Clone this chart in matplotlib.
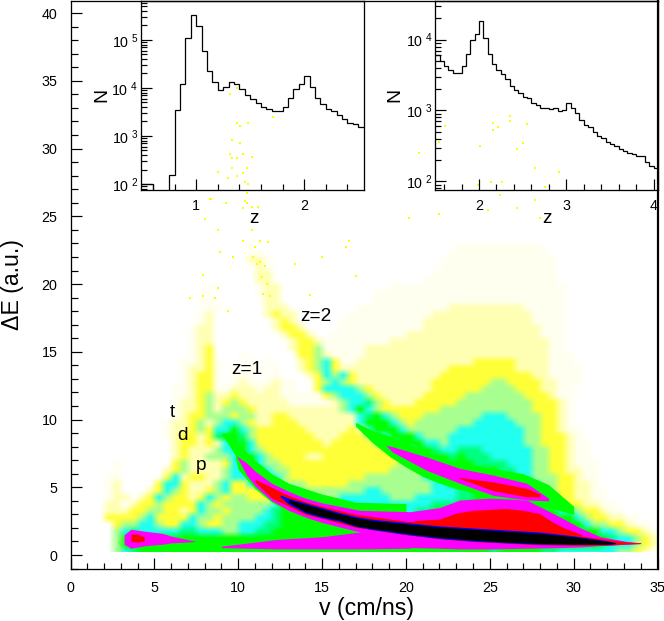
import numpy as np
import matplotlib
matplotlib.use('Agg')
import matplotlib.pyplot as plt
from matplotlib.colors import ListedColormap
from matplotlib.ticker import MultipleLocator, FixedLocator, NullFormatter

# left inset, z histogram (bins of 0.05 from 0.45)
z1_edges_start = 0.45
z1_counts = [100, 100, 100, 1, 1, 1, 154, 3430, 12250, 110400, 331000, 199000, 59300, 22800,
             13060, 9200, 10600, 13060, 12250, 9660, 7250, 5990, 4940, 4080, 3710, 3370, 3370,
             4080, 6280, 9660, 12250, 18000, 10600, 6280, 4720, 3710, 3370, 2790, 2300, 1900,
             1810, 1570]

# right inset, z histogram (bins of 0.05 from 1.5)
z2_edges_start = 1.5
z2_counts = [6010, 4950, 4210, 3770, 3430, 3430, 4210, 6350, 9790, 12160, 18100, 10660, 6350,
             4590, 3770, 3320, 2820, 2250, 1930, 1790, 1570, 1480, 1280, 1190, 1100, 1070, 1040,
             1070, 968, 1000, 1260, 1070, 907, 723, 615, 589, 490, 430, 403, 362, 332, 318, 282,
             270, 248, 240, 228, 228, 185, 164, 152]

# density map, one string per 0.5 in dE (top row 22.5-23),
# one character per 0.5 in v, blocks of 5 cm/ns
density_rows = [
    ".......... .......... .a........ .......... ......aaaa aaaaaa.... ..........",
    ".......... .......... .aa....... .......... .....aaaaa aaaaaaa... ..........",
    ".......... .......... .bba...... .......... ....aaaaaa aaaaaaaa.. ..........",
    ".......... .......... ..ba...... .......... ....aaaaaa aaaaaaaa.. ..........",
    ".......... .......... ..bb...... .......... ...aaaaaaa aaaaaaaa.. ..........",
    ".......... .......... ..bb...... .......... ..aaaaaaaa aaaaaaaa.. ..........",
    ".......... ......a... ..abb..... ........aa aaaaaaaaaa aaaaaaaaa. ..........",
    ".......... ......a... ..abb..... ......aaaa aaaaaaaaaa aaaaaaaaa. ..........",
    ".......... .....aa... ...bb..... ......aaaa aaaaaaaaaa aaaaaaaaa. ..........",
    ".......... ......aa.. ...bbb.... ....aaaaaa aaaaabbbbb bbbbaaaaa. ..........",
    ".......... .....ab... ...bybb... ...aaaaaaa aaabbbbbbb bbbbbaaaa. ..........",
    ".......... .....ab... ....byb... ..aaaaaaaa aabbbbbbbb bbbbbaaaa. ..........",
    ".......... ....abb... ....byyb.. ..aaaaaaaa aabbbbbbbb bbbbbbaaa. ..........",
    ".......... ....abb... .....byyb. .aaaaaaaaa bbbbbbbbbb bbbbbbaaa. ..........",
    ".......... ....abb... ......byyb aaaaaaaabb bbbbbbbbbb bbbbbbbaa. ..........",
    ".......... ....aby... ......byyc aaaaabbbbb bbbbbbbbbb bbbbbbbaa. ..........",
    ".......... ....aby... a......yyc baaaabbbbb bbbbbbbbbb bbbbbbbaaa ..........",
    ".......... ...aabya.. .a.a...byc tyaabbbbbb bbbbbbbbyy yyybbbbaaa ..........",
    ".......... ...abbya.a .aa.a..byc tybbbbbbbb bbbbbyyyyy yyybbbbaaa a.........",
    ".......... ...abyya.a aa.aa...by tctybbbbbb bbbbyyyyyy yyyyybbaaa a.........",
    ".......... ...abyya.a baaabaa..y ctcybbbbbb bbbyyyyyyy ccyyyybbaa a.........",
    ".......... ..aabyyaab bbabbaa..y ttttcybbbb bbbyyyyyyc cccyyybbaa ..........",
    ".......... ..aabycbby bbbbbaaaaa yctttcybbb bbyyyyyccc ccccyyybaa ..........",
    ".......... ..abbycbyc ybbbbbaaaa abcttncybb byyyyycccc cccccyyyba ..........",
    ".......... ..abbycbcc cybbbbbbbb bbctgtcyyy yyyycccccc cccccyyyba ..........",
    ".......... ..abyycccy ccbbyybbbb bbbbtngtcy yyccccccct ttccccyyba ..........",
    ".......... .abbycbctt cybbyyybbb bbbbtgggtc yccccccctt tttcccyyba ..........",
    ".......... .abbycyttg tcyyyyyybb bbbybtgggt cccccctttt ttttccyyba a.........",
    ".......... .abyybyngg ncyyyyyyyb bbyyycttgg gtcccttttt ttttccyyyb a.........",
    ".......... ..byybybtn gtyyyyyyyy byyyyycctg ggttcttttt ttttccyyyb aa........",
    ".......... ..bybbbctt gtcyyyyyyy yyyyyyyycc tggnttnnnt tttttccyyb aa........",
    ".......... ..bybbccct tgtcyyyybb yyyyyyyyyc ctgggngnnn tttttccyyb aa........",
    ".....a.... ..ycbbbbyt ngtccyyyyy yyyyyyyyyc cctgggggnn nntttccyyb aaa.......",
    ".....a.... .bycbbbbct tngtccyyyy yyyyyyyycc ccttgggggg gnnttccyyb baa.......",
    "....aa.... .ytbyybbct ttgttcyyyy yyyyyccccc ccttnggggg gggttcccyy baa.......",
    "....ab.... yttybbbcty yttgtcccyy yyyccccccc cccttnnggg ggggttccyy bba.......",
    "....ab...b ytcybbycty yyytgttccc cccccttccc ccctttnngg gggggttcyy bbaa......",
    "....abb.by tcyybytcyc cyyyttgttc ccttttttcc ctttttnngg gggggnttyy bbaa......",
    "....bb.byy cyyyytcycc cccctggggt tttttttttt tttnnngggg gggggggtty ybbaa.....",
    "....bbbyyc cyybytccyc ccctnggggg nnnttttttt tnnggggggg ggggggggtt cyybaa....",
    "....yyyyct yyyytccycc ccttnggggg gggggngggg gggggggggg gggggggggg tcyybbaa..",
    ".....ycctt cyyttcyycc tttnnggggg gggggggggg gggggggggg gggggggggg gtccyybaa.",
    ".....ctntt tttnntttcc ttnngggggg gggggggggg gggggggggg gggggggggg gggttcyyba",
    ".....cgggg gggggggggg gggggggggg gggggggggg gggggggggg gggggggggg ggggnttcyb",
    ".....cgggg gggggggggg gggggggggg gggggggggg gggggggggg gggggggggg gggntttcyb",
    ".....ctngg gggggggggg gggggggggg gggggggggg gggggggggg ngggggnntt tttttccyb.",
]
density_chars = '.abyctngm'

# z=1 ridge, contours of the dense part
z1_green_v = [9.0, 9.8, 10, 11, 12, 13, 14, 15, 17, 20]
z1_green_up = [9.0, 9.0, 8.2, 7.0, 6.0, 5.3, 4.9, 4.5, 3.9, 3.8]
z1_green_lo = [9.0, 7.4, 6.3, 4.9, 3.9, 3.2, 2.8, 2.4, 1.9, 1.5]
z1_mag_v = [9.9, 10.5, 11, 12, 13, 14, 15, 17.25, 20.25, 22, 23.2, 25, 27.2, 29.2, 30.4, 31.6, 33.2, 34]
z1_mag_up = [7.3, 6.8, 6.2, 5.3, 4.7, 4.2, 3.85, 3.3, 3.2, 3.5, 4.06, 4.2, 4.06, 2.8, 2.0, 1.35, 1.0, 0.9]
z1_mag_lo = [7.3, 5.9, 5.1, 4.0, 3.3, 2.8, 2.4, 1.7, 0.55, 0.5, 0.45, 0.45, 0.5, 0.55, 0.6, 0.7, 0.8, 0.85]
z1_red_v = [11, 12, 13, 14, 15, 17, 20, 22, 24, 26, 28, 30, 32, 33, 34]
z1_red_up = [5.6, 5.0, 4.4, 3.95, 3.6, 3.0, 2.5, 2.3, 2.1, 1.95, 1.75, 1.5, 1.15, 0.98, 0.9]
z1_red_lo = [5.4, 4.2, 3.6, 3.0, 2.7, 2.05, 1.5, 1.2, 1.0, 0.87, 0.75, 0.7, 0.72, 0.8, 0.85]
z1_blue_v = [12.5, 13, 14, 15, 16, 17, 18, 20, 22, 24, 26, 28, 30, 32, 32.5]
z1_blue_up = [4.45, 4.2, 3.85, 3.5, 3.15, 2.85, 2.65, 2.4, 2.15, 2.0, 1.85, 1.7, 1.42, 1.05, 0.92]
z1_blue_lo = [4.3, 3.75, 3.1, 2.75, 2.5, 2.1, 1.88, 1.52, 1.22, 1.03, 0.9, 0.8, 0.78, 0.78, 0.85]
z1_black_v = [13, 14, 15, 16, 17, 18, 20, 22, 24, 26, 28, 30, 32, 32.5]
z1_black_up = [4.1, 3.75, 3.4, 3.05, 2.75, 2.55, 2.3, 2.07, 1.9, 1.75, 1.6, 1.35, 1.0, 0.9]
z1_black_lo = [3.9, 3.2, 2.85, 2.6, 2.15, 1.95, 1.6, 1.3, 1.1, 0.95, 0.85, 0.82, 0.8, 0.85]

# second band above the z=1 ridge
mid_red_v = [20.5, 22, 23, 24, 26, 27, 28, 28.7, 29.5, 30.5]
mid_red_up = [2.55, 2.65, 3.1, 3.3, 3.44, 3.3, 3.05, 2.46, 1.97, 1.5]
mid_red_lo = [1.6, 1.4, 1.3, 1.2, 1.1, 1.0, 0.9, 0.85, 0.8, 0.8]

# z=2 ridge
z2_green_v = [17.0, 18, 19, 20, 21, 22, 23, 25, 27, 28.5, 30]
z2_green_up = [9.8, 9.2, 8.8, 8.3, 7.7, 7.2, 6.9, 6.4, 6.0, 5.2, 3.6]
z2_green_lo = [9.5, 8.3, 7.3, 6.5, 5.8, 5.3, 4.9, 4.3, 3.9, 3.5, 3.0]
z2_mag_v = [18.8, 19.2, 21.2, 23.2, 25.2, 27.2, 28.5]
z2_mag_up = [8.1, 8.0, 7.25, 6.4, 5.9, 5.3, 4.2]
z2_mag_lo = [8.1, 7.6, 6.27, 5.3, 4.4, 4.06, 4.0]
z2_red_v = [23.0, 25.2, 27.2, 28]
z2_red_up = [5.75, 5.4, 4.93, 4.5]
z2_red_lo = [5.75, 4.75, 4.3, 4.3]

# low band at the bottom of the map
low_mag_v = [9.0, 12.3, 15, 17.25, 20.25]
low_mag_up = [0.65, 1.15, 1.35, 1.7, 1.5]
low_mag_lo = [0.55, 0.45, 0.45, 0.45, 0.5]
blob_mag_v = [3.2, 3.6, 4.5, 5.5, 6, 7.5]
blob_mag_up = [1.5, 1.9, 1.75, 1.6, 1.4, 1.0]
blob_mag_lo = [0.8, 0.5, 0.7, 0.8, 0.9, 1.0]
blob_red_v = [3.6, 4, 4.4]
blob_red_up = [1.55, 1.55, 1.35]
blob_red_lo = [1.0, 0.95, 1.05]

# isolated counts high up, some of them seen through the insets
stray_v = [10.5, 10.4, 8.0, 8.3, 10.8, 10.3, 11.0, 11.3, 11.8, 10.9, 11.3, 11.6, 11.1, 11.4, 11.7,
           11.5, 11.9, 8.9, 8.8, 9.7, 7.9, 8.8, 7.9, 8.6, 7.1, 9.4, 16.6, 15.0, 13.4, 14.3, 17.0,
           16.4, 9.9, 9.5, 9.9, 10.1, 10.6, 12.1, 9.6, 10.1, 9.5, 9.6, 9.9, 10.3, 10.8, 9.6, 10.5,
           8.8, 9.9, 10.3, 9.4, 10.6, 10.4, 8.4, 9.3, 10.3, 11.2, 10.5, 10.8, 26.2, 26.2, 25.2,
           25.5, 25.2, 27.2, 24.4, 26.6, 27.0, 22.3, 22.0, 20.8, 27.7, 29.1, 25.7, 28.3, 25.1,
           24.3, 25.6, 24.9, 27.7, 26.6, 28.0, 22.0, 20.2]
stray_E = [26.7, 26.1, 24.8, 26.3, 24.0, 23.2, 22.7, 23.2, 23.1, 22.0, 21.6, 21.3, 21.5, 20.5, 20.0,
           19.3, 19.1, 22.4, 24.0, 22.0, 20.7, 19.7, 19.1, 19.0, 19.0, 18.0, 23.2, 22.0, 21.5, 19.2,
           20.6, 22.7, 34.5, 34.0, 31.9, 31.7, 31.9, 32.3, 30.6, 30.4, 29.6, 29.3, 29.3, 29.6, 29.4,
           28.6, 28.6, 28.3, 28.0, 28.2, 27.8, 27.4, 27.5, 26.3, 26.0, 25.6, 25.7, 26.0, 25.7, 32.4,
           32.0, 31.9, 31.6, 31.4, 31.8, 30.2, 30.0, 30.4, 31.7, 30.5, 29.7, 28.6, 28.3, 27.5, 27.2,
           27.5, 27.3, 26.6, 25.5, 26.2, 25.6, 24.9, 25.2, 24.9]

plt.rcParams['font.family'] = ['Liberation Sans', 'DejaVu Sans']
plt.rcParams['mathtext.default'] = 'regular'

W, H = 664.0, 621.0
px = 0.72  # points per pixel at dpi 100

fig = plt.figure(figsize=(W / 100, H / 100), dpi=100)
ax = fig.add_axes([70.5 / W, (H - 569) / H, 587 / W, 568.5 / H])

# map, cells blended so the sparse speckled levels read as a soft density
cells = np.array([[density_chars.index(c) for c in r.replace(' ', '')] for r in density_rows[::-1]])
cmap = ListedColormap(['#FFFFFF', '#FFFFF0', '#FFFFB4', '#FFFF38', '#A8FF90', '#20FFF0', '#00FF80', '#00FF00', '#FF00FF'])
ax.imshow(cmap(cells)[:, :, :3], extent=[0, 35, 0, 23], origin='lower', aspect='auto',
          interpolation='bilinear', zorder=1)
ax.axhspan(-1.03, 0.2, color='w', linewidth=0, zorder=1.5)
ax.set_xlim(0, 35)
ax.set_ylim(-1.03, 40.93)

bands = [(z2_green_v, z2_green_up, z2_green_lo, '#00FF00'),
         (z1_green_v, z1_green_up, z1_green_lo, '#00FF00'),
         (low_mag_v, low_mag_up, low_mag_lo, '#FF00FF'),
         (blob_mag_v, blob_mag_up, blob_mag_lo, '#FF00FF'),
         (blob_red_v, blob_red_up, blob_red_lo, '#FF0000'),
         (z1_mag_v, z1_mag_up, z1_mag_lo, '#FF00FF'),
         (mid_red_v, mid_red_up, mid_red_lo, '#FF0000'),
         (z1_red_v, z1_red_up, z1_red_lo, '#FF0000'),
         (z1_blue_v, z1_blue_up, z1_blue_lo, '#0000FF'),
         (z1_black_v, z1_black_up, z1_black_lo, '#000000'),
         (z2_mag_v, z2_mag_up, z2_mag_lo, '#FF00FF'),
         (z2_red_v, z2_red_up, z2_red_lo, '#FF0000')]
for i, (bv, up, lo, col) in enumerate(bands):
    ax.fill_between(bv, lo, up, color=col, linewidth=0, zorder=2 + i * 0.01)

ax.scatter(stray_v, stray_E, s=(1.8 * px) ** 2, c='#FFFF00', marker='s', linewidths=0, zorder=3)

ax.xaxis.set_major_locator(MultipleLocator(5))
ax.xaxis.set_minor_locator(MultipleLocator(1))
ax.yaxis.set_minor_locator(MultipleLocator(1))
ax.set_yticks(np.arange(0, 41, 5))
ax.tick_params(axis='both', which='major', direction='in', length=11 * px, width=1.2 * px, labelsize=10.3)
ax.tick_params(axis='both', which='minor', direction='in', length=6.5 * px, width=1.2 * px)
ax.tick_params(axis='x', which='major', pad=9 * px + 2)
ax.tick_params(axis='y', which='major', pad=13 * px)
for s in ax.spines.values():
    s.set_linewidth(1.3 * px)
    s.set_zorder(8)
ax.spines['right'].set_linewidth(2.2 * px)

# labels on the map
labels = [('z', 10.94, 24.87), ('z', 28.4, 24.87), ('z=2', 14.66, 17.64), ('z=1', 10.49, 13.73),
          ('t', 6.05, 10.5), ('d', 6.65, 8.86), ('p', 7.78, 6.64)]
for t, lx, ly in labels:
    ax.text(lx, ly, t, fontsize=13.7, ha='center', va='center', color='k', zorder=6)

fig.text(366.5 / W, (H - 608) / H, 'v (cm/ns)', fontsize=16.7, ha='center', va='center')
fig.text(13 / W, (H - 285) / H, '\u0394E (a.u.)', fontsize=16.7, rotation=90, ha='center', va='center')


def make_inset(rect, counts, start, xlim, ylim, xticks, yticks, ylabels):
    axi = fig.add_axes([rect[0] / W, (H - rect[3]) / H, (rect[1] - rect[0]) / W, (rect[3] - rect[2]) / H])
    axi.patch.set_alpha(0)
    edges = start + 0.05 * np.arange(len(counts) + 1)
    axi.stairs(counts, edges, color='k', linewidth=1.25 * px, baseline=None)
    axi.set_yscale('log')
    axi.set_xlim(*xlim)
    axi.set_ylim(*ylim)
    axi.xaxis.set_major_locator(FixedLocator(xticks))
    axi.xaxis.set_minor_locator(MultipleLocator(0.2))
    axi.yaxis.set_major_locator(FixedLocator(yticks))
    axi.set_yticklabels(ylabels)
    minor = [m * 10.0 ** e for e in range(1, 6) for m in range(2, 10)]
    axi.yaxis.set_minor_locator(FixedLocator(minor))
    axi.yaxis.set_minor_formatter(NullFormatter())
    axi.tick_params(axis='both', which='major', direction='in', length=11 * px, width=1.2 * px, labelsize=10.3)
    axi.tick_params(axis='both', which='minor', direction='in', length=6 * px, width=1.2 * px)
    axi.tick_params(axis='x', which='major', pad=6 * px + 2)
    axi.tick_params(axis='y', which='major', pad=3 * px)
    for s in axi.spines.values():
        s.set_linewidth(1.3 * px)
    return axi


make_inset((141, 364, 0.5, 190), z1_counts, z1_edges_start, (0.488, 2.553), (10 ** 1.875, 10 ** 5.82),
           [1, 2], [1e2, 1e3, 1e4, 1e5], ['10$^{\\ 2}$', '10$^{\\ 3}$', '10$^{\\ 4}$', '10$^{\\ 5}$'])
make_inset((435.3, 658, 0.5, 190), z2_counts, z2_edges_start, (1.5, 4.05), (10 ** 1.877, 10 ** 4.553),
           [2, 3, 4], [1e2, 1e3, 1e4], ['10$^{\\ 2}$', '10$^{\\ 3}$', '10$^{\\ 4}$'])
fig.text(102 / W, (H - 95) / H, 'N', fontsize=14, rotation=90, ha='center', va='center')
fig.text(395 / W, (H - 95) / H, 'N', fontsize=14, rotation=90, ha='center', va='center')

fig.savefig('out.png', dpi=100)
